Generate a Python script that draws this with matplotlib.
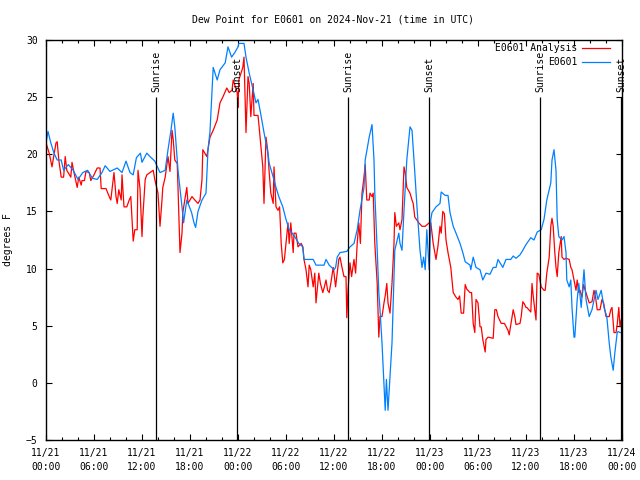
import matplotlib
matplotlib.use("Agg")
import matplotlib.pyplot as plt
import matplotlib.dates as mdates
import pandas as pd

plt.rcParams['font.family'] = ['DejaVu Sans Mono']
plt.rcParams['font.size'] = 7

base = pd.Timestamp("2024-11-21 00:00")

# Observed station series (hours after base, deg F)
obs_hours = [0.0, 0.25, 0.6, 1.0, 1.4, 1.9, 2.2, 2.8, 3.4, 4.0, 4.6, 5.2, 5.8, 6.4, 7.0, 7.4, 8.0, 8.9, 9.5, 10.0,
             10.5, 10.9, 11.3, 11.8, 12.0, 12.6, 13.0, 13.6, 14.25, 14.9, 15.25, 15.6, 15.9, 16.1, 16.5, 17.0, 17.2,
             17.6, 18.2, 18.5, 18.7, 19.0, 19.5, 20.0, 20.25, 20.5, 20.75, 20.9, 21.4, 21.75, 22.4, 22.75, 23.2,
             23.6, 24.0, 24.1, 24.75, 25.0, 25.4, 25.9, 26.25, 26.5, 26.9, 27.25, 27.75, 27.9, 28.4, 28.75, 29.1,
             29.6, 30.0, 30.4, 31.0, 31.6, 32.1, 32.25, 33.4, 33.75, 34.75, 35.0, 35.4, 36.0, 36.2, 36.4, 36.75,
             37.6, 38.0, 38.5, 38.9, 39.25, 39.75, 39.9, 40.4, 40.75, 41.0, 41.1, 41.4, 41.6, 41.75, 42.0, 42.2,
             42.4, 42.55, 42.75, 43.0, 43.25, 43.5, 43.6, 44.1, 44.25, 44.5, 44.75, 45.1, 45.5, 45.75, 46.0, 46.4,
             46.75, 47.0, 47.2, 47.4, 47.6, 47.9, 48.0, 48.1, 48.25, 48.75, 49.25, 49.4, 49.9, 50.25, 50.5, 50.9,
             51.25, 51.75, 52.1, 52.4, 53.0, 53.1, 53.4, 53.75, 54.25, 54.6, 55.0, 55.5, 55.9, 56.25, 56.5, 57.1,
             57.5, 58.1, 58.4, 58.75, 59.25, 59.6, 60.0, 60.6, 61.0, 61.4, 61.9, 62.25, 62.6, 63.1, 63.25, 63.5,
             63.75, 63.9, 64.1, 64.5, 64.75, 65.0, 65.1, 65.4, 65.6, 65.75, 66.0, 66.1, 66.4, 66.6, 66.9, 67.25,
             67.5, 67.9, 68.25, 68.75, 69.0, 69.4, 69.75, 70.1, 70.4, 70.6, 70.9, 71.1, 71.4, 71.5, 71.75, 71.9]
obs_vals = [21.0, 22.0, 21.0, 20.1, 19.5, 19.5, 18.6, 19.1, 18.6, 17.8, 18.4, 18.6, 17.9, 17.8, 18.4, 19.0, 18.5, 18.8, 18.4, 19.4,
            18.4, 18.2, 19.7, 20.1, 19.3, 20.1, 19.8, 19.4, 18.4, 18.6, 20.4, 22.0, 23.6, 22.4, 18.6, 15.4, 14.0,
            16.0, 14.9, 14.0, 13.6, 15.0, 16.0, 16.6, 20.4, 22.0, 25.6, 27.6, 26.5, 27.4, 28.0, 29.4, 28.5,
            28.9, 29.4, 29.7, 29.7, 28.5, 27.1, 25.6, 24.5, 24.8, 23.3, 21.9, 20.1, 19.2, 18.0, 17.1, 16.3,
            15.4, 14.3, 13.4, 12.9, 12.2, 11.9, 10.8, 10.8, 10.3, 10.3, 10.8, 10.3, 9.9, 10.1, 11.0, 11.4,
            11.5, 11.9, 12.2, 13.4, 15.1, 17.1, 19.5, 21.5, 22.6, 19.5, 16.6, 11.6, 7.9, 6.4, 3.5, 0.5,
            -2.4, 0.3, -2.4, 0.5, 3.5, 9.3, 11.6, 13.1, 12.2, 11.6, 15.1, 19.5, 22.4, 22.1, 19.5, 15.1,
            11.6, 10.1, 11.0, 9.9, 13.4, 9.9, 12.2, 14.3, 14.9, 15.4, 15.7, 16.7, 16.4, 16.4, 14.9, 13.7,
            13.1, 12.2, 11.4, 10.6, 10.3, 9.9, 11.0, 10.1, 9.9, 9.0, 9.6, 9.5, 10.1, 10.1, 10.8, 10.1,
            10.8, 10.8, 11.1, 10.9, 11.2, 11.6, 12.1, 12.7, 12.5, 13.2, 13.4, 14.3, 16.0, 17.5, 19.5, 20.4,
            18.6, 14.3, 12.8, 12.5, 12.8, 11.4, 9.0, 8.4, 9.0, 6.6, 4.0, 4.0, 7.3, 8.7, 6.6, 9.9,
            7.3, 5.8, 6.4, 8.1, 7.3, 8.1, 6.6, 5.8, 3.5, 2.3, 1.1, 2.6, 4.4, 4.5, 4.4, 4.4]

# Analysis series (hours after base, deg F)
ana_hours = [0.0, 0.4, 0.75, 1.25, 1.4, 1.6, 1.9, 2.2, 2.4, 2.6, 3.1, 3.25, 3.5, 3.9, 4.1, 4.4, 4.5, 4.8, 5.0, 5.4,
             5.6, 6.0, 6.4, 6.75, 6.9, 7.5, 7.9, 8.1, 8.5, 8.75, 8.9, 9.1, 9.4, 9.5, 9.75, 10.1, 10.4, 10.6,
             10.75, 10.9, 11.1, 11.4, 11.5, 11.75, 12.0, 12.1, 12.4, 12.6, 13.4, 13.6, 14.0, 14.25, 14.5, 14.6,
             14.9, 15.25, 15.5, 15.75, 15.9, 16.1, 16.4, 16.5, 16.75, 17.0, 17.1, 17.6, 17.75, 18.25, 18.6, 19.0,
             19.25, 19.5, 19.6, 20.1, 20.5, 20.9, 21.4, 21.75, 22.1, 22.6, 22.9, 23.25, 23.4, 23.9, 24.0, 24.1,
             24.6, 24.75, 25.0, 25.25, 25.4, 25.6, 25.9, 26.0, 26.5, 26.6, 26.9, 27.1, 27.25, 27.35, 27.5, 27.7,
             27.9, 28.1, 28.4, 28.5, 28.75, 29.0, 29.2, 29.4, 29.6, 29.8, 30.0, 30.25, 30.4, 30.6, 30.9, 31.0,
             31.25, 31.5, 31.9, 32.1, 32.25, 32.5, 32.75, 32.9, 33.1, 33.4, 33.6, 33.75, 33.9, 34.1, 34.3, 34.6,
             34.8, 35.0, 35.2, 35.4, 35.6, 35.9, 36.0, 36.2, 36.4, 36.6, 36.75, 37.0, 37.25, 37.5, 37.6, 37.75,
             38.0, 38.2, 38.5, 38.7, 38.9, 39.1, 39.3, 39.5, 39.75, 39.9, 40.1, 40.4, 40.5, 40.75, 40.9, 41.1,
             41.4, 41.6, 41.75, 42.0, 42.25, 42.4, 42.6, 42.75, 43.0, 43.25, 43.5, 43.6, 43.8, 44.1, 44.25, 44.5,
             44.75, 44.9, 45.1, 45.5, 45.75, 45.9, 46.1, 46.3, 46.6, 47.0, 47.4, 47.9, 48.1, 48.4, 48.75, 49.0,
             49.25, 49.4, 49.6, 49.8, 50.0, 50.25, 50.5, 50.6, 50.9, 51.25, 51.5, 51.7, 51.9, 52.2, 52.4, 52.6,
             53.0, 53.2, 53.4, 53.6, 53.75, 54.0, 54.25, 54.4, 54.6, 54.9, 55.0, 55.25, 55.9, 56.1, 56.3, 56.5,
             56.9, 57.3, 57.75, 57.9, 58.1, 58.4, 58.6, 58.75, 59.25, 59.4, 59.6, 59.8, 60.0, 60.1, 60.6, 60.75,
             60.9, 61.25, 61.4, 61.6, 61.9, 62.25, 62.4, 62.6, 62.9, 63.1, 63.25, 63.4, 63.6, 63.75, 63.9, 64.1,
             64.4, 64.5, 64.75, 65.0, 65.4, 65.6, 65.75, 66.0, 66.25, 66.4, 66.6, 66.75, 67.0, 67.2, 67.4, 67.9,
             68.25, 68.5, 68.7, 68.9, 69.25, 69.5, 69.7, 70.0, 70.4, 70.6, 70.75, 71.0, 71.25, 71.4, 71.6, 71.75,
             71.9]
ana_vals = [21.0, 20.1, 18.9, 21.0, 21.1, 19.5, 18.0, 18.0, 19.8, 18.6, 18.0, 19.3, 18.4, 17.1, 18.0, 17.3, 17.7, 17.7, 18.5, 18.4,
            17.7, 18.2, 18.8, 18.8, 17.0, 17.0, 16.3, 16.0, 18.4, 16.3, 15.7, 16.9, 16.0, 18.2, 15.4, 15.4, 16.0, 16.3,
            14.3, 12.4, 13.4, 13.4, 18.6, 17.0, 12.8, 14.5, 17.8, 18.2, 18.6, 17.8, 16.6, 13.7, 16.0, 17.1,
            18.0, 19.8, 18.5, 22.1, 21.3, 19.5, 19.2, 17.1, 11.4, 13.1, 14.9, 17.1, 15.7, 16.3, 16.0, 15.7,
            16.0, 17.8, 20.4, 19.8, 21.5, 22.1, 23.0, 24.5, 25.0, 25.8, 25.4, 25.6, 26.5, 25.4, 24.1, 26.5,
            27.6, 28.5, 21.9, 26.8, 26.2, 23.3, 26.2, 23.4, 23.4, 22.7, 20.4, 18.9, 15.7, 18.0, 21.5, 20.4,
            18.4, 16.6, 15.7, 18.9, 15.4, 15.1, 15.4, 12.2, 10.5, 10.8, 12.2, 14.0, 12.2, 14.0, 11.4, 13.1,
            13.1, 11.9, 12.2, 11.9, 10.8, 9.9, 8.4, 10.3, 9.9, 8.4, 9.6, 7.0, 8.1, 9.6, 8.7, 7.9,
            8.4, 9.0, 8.1, 7.9, 8.7, 10.1, 9.6, 8.4, 9.6, 10.8, 11.0, 10.1, 9.3, 9.3, 5.7, 8.1,
            10.5, 9.3, 10.8, 9.6, 12.2, 14.0, 12.2, 16.6, 18.0, 19.1, 16.0, 16.0, 16.6, 16.3, 16.6, 12.2,
            8.7, 4.0, 5.8, 5.8, 7.0, 7.6, 8.7, 7.0, 6.1, 8.7, 12.2, 14.9, 13.7, 14.0, 13.4, 14.3,
            18.9, 18.4, 17.1, 16.6, 16.0, 15.7, 14.5, 14.3, 14.0, 13.7, 13.7, 14.0, 14.0, 12.2, 10.8, 12.0,
            13.7, 13.1, 15.0, 14.8, 12.5, 11.4, 10.5, 10.1, 7.9, 7.5, 7.3, 7.6, 6.1, 6.1, 8.6, 8.2,
            7.9, 7.9, 5.2, 4.4, 7.3, 7.0, 4.9, 4.9, 3.8, 2.7, 3.8, 4.0, 3.9, 6.4, 6.4, 5.8,
            5.2, 5.2, 4.6, 4.2, 5.1, 6.4, 5.8, 5.1, 5.2, 5.8, 7.1, 6.9, 6.6, 6.6, 6.2, 8.7,
            7.6, 5.5, 9.6, 9.5, 8.4, 8.1, 8.1, 9.6, 11.0, 13.7, 14.4, 13.7, 11.4, 10.1, 9.3, 11.4,
            12.8, 11.0, 10.8, 10.9, 10.8, 10.1, 9.9, 9.0, 8.1, 9.0, 7.9, 8.1, 7.5, 8.6, 8.1, 7.0,
            7.1, 8.1, 7.5, 6.4, 6.4, 7.3, 7.0, 5.8, 5.8, 6.4, 6.6, 4.4, 4.4, 5.1, 6.6, 4.9,
            5.5]

sun_times = ["2024-11-21 13:45", "2024-11-21 23:53", "2024-11-22 13:45",
             "2024-11-22 23:53", "2024-11-23 13:45", "2024-11-23 23:53"]
sun_labels = ["Sunrise", "Sunset", "Sunrise", "Sunset", "Sunrise", "Sunset"]

series_labels = ["E0601 Analysis", "E0601"]
series_colors = ["#ff0000", "#0080ff"]

obs_t = base + pd.to_timedelta(obs_hours, unit="h")
ana_t = base + pd.to_timedelta(ana_hours, unit="h")
sun_t = pd.to_datetime(sun_times)

fig = plt.figure(figsize=(6.4, 4.8), dpi=100)
ax = fig.add_axes([46/640, 40/480, 576/640, 400/480])

ax.plot(ana_t, ana_vals, color=series_colors[0], lw=0.9)
ax.plot(obs_t, obs_vals, color=series_colors[1], lw=0.9)

ax.vlines(sun_t, -5, 25, color="black", lw=0.9)
for t, lab in zip(sun_t, sun_labels):
    ax.text(t, 25.45, lab, rotation=90, ha="center", va="bottom", fontsize=7)

ax.set_xlim(base, base + pd.Timedelta(hours=72))
ax.set_ylim(-5, 30)
ax.set_yticks(range(-5, 31, 5))
ax.xaxis.set_major_locator(mdates.HourLocator(byhour=[0, 6, 12, 18]))
ax.xaxis.set_minor_locator(mdates.HourLocator(byhour=range(0, 24, 2)))
ax.xaxis.set_major_formatter(mdates.DateFormatter("%m/%d\n%H:%M"))
for lbl in ax.get_xticklabels():
    lbl.set_linespacing(1.5)
ax.tick_params(axis="both", which="major", direction="in", length=4, width=0.8,
               top=True, right=True, labelsize=7, pad=6)
ax.tick_params(axis="x", which="minor", direction="in", length=2.5, width=0.8, top=True)
for s in ax.spines.values():
    s.set_linewidth(1.0)

ax.set_ylabel("degrees F", fontsize=7, labelpad=9)
fig.text(0.52, 1 - 19/480, "Dew Point for E0601 on 2024-Nov-21 (time in UTC)",
         ha="center", va="center", fontsize=7)

# legend (gnuplot style: right-justified text, sample line on the right)
for i, (lab, col) in enumerate(zip(series_labels, series_colors)):
    yy = 0.98 - i * 0.035
    ax.text(0.922, yy, lab, transform=ax.transAxes, ha="right", va="center", fontsize=7)
    ax.plot([0.931, 0.979], [yy, yy], transform=ax.transAxes, color=col, lw=0.9)

fig.savefig("out.png", dpi=100)
